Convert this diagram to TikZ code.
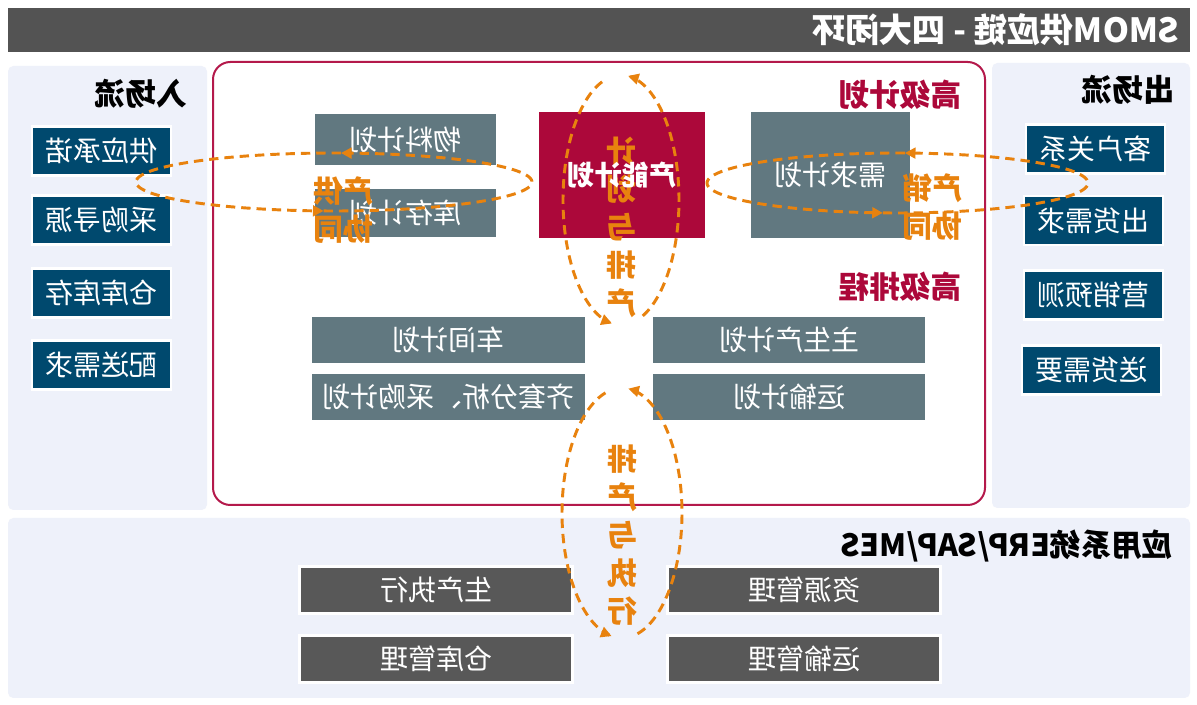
\documentclass[tikz,border=0pt]{standalone}
\usepackage{fontspec}
\newfontfamily\cjk{Noto Sans CJK SC}
\usetikzlibrary{arrows.meta}
\definecolor{titlegray}{RGB}{83,83,83}
\definecolor{panelbg}{RGB}{238,241,250}
\definecolor{flowblue}{RGB}{0,73,110}
\definecolor{slate}{RGB}{97,120,128}
\definecolor{darkgray}{RGB}{88,88,88}
\definecolor{crimson}{RGB}{172,8,58}
\definecolor{framered}{RGB}{180,25,75}
\definecolor{orng}{RGB}{232,130,14}
\tikzset{
  mir/.style={xscale=-1},
  txt/.style={mir, font=\cjk\fontsize{21}{25}\selectfont, text=white, inner sep=0pt},
  bluebox/.style={txt, fill=flowblue, draw=white, line width=2pt, minimum width=104.25pt, minimum height=36.75pt},
  slatebox/.style={txt, fill=slate},
  graybox/.style={txt, fill=darkgray, draw=white, line width=2pt, minimum width=204.75pt, minimum height=35pt},
  heading/.style={mir, font=\cjk\bfseries\fontsize{23}{27}\selectfont, text=black, inner sep=0pt},
  redhead/.style={heading, text=crimson},
  orangetxt/.style={mir, font=\cjk\bfseries\fontsize{22.5}{28.5}\selectfont, text=orng, align=center, inner sep=0pt},
  flowloop/.style={draw=orng, line width=2.2pt, dash pattern=on 7pt off 4.5pt, -{Triangle[length=8pt,width=8pt]}},
}
\begin{document}
\begin{tikzpicture}[x=0.75pt,y=-0.75pt]
\useasboundingbox (0,0) rectangle (1197,705);
\fill[white] (0,0) rectangle (1197,705);
% title bar
\fill[titlegray] (8,8) rectangle (1190,52);
\node[mir, font=\cjk\bfseries\fontsize{25}{29}\selectfont, text=white, inner sep=0pt] (title) at (996,30) {SMOM供应链 - 四大闭环};
% panels
\fill[panelbg, rounded corners=4pt] (8,66) rectangle (207,510);
\fill[panelbg, rounded corners=4pt] (992,63) rectangle (1190,508);
\fill[panelbg, rounded corners=4pt] (8,518) rectangle (1190,698);
\draw[framered, line width=1.5pt, rounded corners=13pt] (213,62) rectangle (985,505);
% side headings
\node[heading] (inflow) at (141,94) {入场流};
\node[heading] (outflow) at (1128,90) {出场流};
% left boxes
\node[bluebox] (l1) at (101.5,151) {供应承诺};
\node[bluebox] (l2) at (101.5,220) {采购寻源};
\node[bluebox] (l3) at (101.5,293) {仓库库存};
\node[bluebox] (l4) at (101.5,365) {配送需求};
% right boxes
\node[bluebox] (r1) at (1095.5,149) {客户关系};
\node[bluebox] (r2) at (1093.5,220.5) {出货需求};
\node[bluebox] (r3) at (1093.5,295) {营销预测};
\node[bluebox] (r4) at (1091.5,370) {送货需要};
% center boxes
\node[slatebox, minimum width=135.75pt, minimum height=38.25pt] (mat) at (405.5,139.5) {物料计划};
\node[slatebox, minimum width=135.75pt, minimum height=36pt] (inv) at (405.5,213) {库存计划};
\node[slatebox, minimum width=119.25pt, minimum height=94.5pt] (dem) at (830.5,175) {需求计划};
\node[mir, fill=crimson, minimum width=124.5pt, minimum height=94.5pt, inner sep=0pt] (cap) at (622,175) {};
\node[slatebox, minimum width=204.75pt, minimum height=34.5pt] (shop) at (448.5,340) {车间计划};
\node[slatebox, minimum width=204.75pt, minimum height=34.5pt] (kit) at (448.5,397) {齐套分析、采购计划};
\node[slatebox, minimum width=204pt, minimum height=34.5pt] (mps) at (789,340) {主生产计划};
\node[slatebox, minimum width=204pt, minimum height=34.5pt] (trp) at (789,397) {运输计划};
\node[redhead] (aplan) at (900,95) {高级计划};
\node[redhead] (asched) at (900,287) {高级排程};
% bottom system
\node[heading] (sys) at (1007,546) {应用系统ERP/SAP/MES};
\node[graybox] (b1) at (436,590) {生产执行};
\node[graybox] (b2) at (804,590) {资源管理};
\node[graybox] (b3) at (436,659) {仓库管理};
\node[graybox] (b4) at (804,659) {运输管理};
% loops
\draw[flowloop] plot[domain=-93:88, samples=70] ({334+198*cos(\x)}, {182-29*sin(\x)});
\draw[flowloop] plot[domain=88:267, samples=70] ({334+198*cos(\x)}, {182-29*sin(\x)});
\draw[flowloop] plot[domain=-94.4:87.8, samples=70] ({897.5+190.5*cos(\x)}, {183-30*sin(\x)});
\draw[flowloop] plot[domain=87.8:265.6, samples=70] ({897.5+190.5*cos(\x)}, {183-30*sin(\x)});
\draw[flowloop] plot[domain=-68:83, samples=70] ({621+58*cos(\x)}, {200-125*sin(\x)});
\draw[flowloop] plot[domain=109:261, samples=70] ({621+58*cos(\x)}, {200-125*sin(\x)});
\draw[flowloop] plot[domain=-75:84, samples=70] ({622+60*cos(\x)}, {513-125*sin(\x)});
\draw[flowloop] plot[domain=106:260, samples=70] ({622+60*cos(\x)}, {513-125*sin(\x)});
% orange labels
\node[orangetxt] (supco) at (343,210) {产供\\协同};
\node[orangetxt] (salco) at (932,207) {产销\\协同};
\node[orangetxt] (plansch) at (621,227) {计\\划\\与\\排\\产};
\node[orangetxt] (schexe) at (622,535) {排\\产\\与\\执\\行};
\node[mir, font=\cjk\bfseries\fontsize{20.5}{24}\selectfont, text=white, inner sep=0pt] (caplabel) at (cap.center) {产能计划};
\end{tikzpicture}
\end{document}
